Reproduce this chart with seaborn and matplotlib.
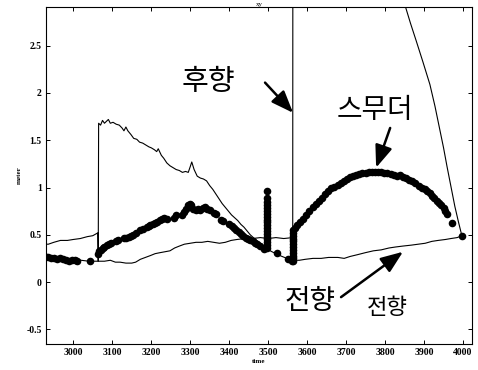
import numpy as np
import pandas as pd
import matplotlib
matplotlib.use("Agg")
import matplotlib.pyplot as plt
import seaborn as sns

# ---- backward (후향) estimate ----
bwd_t = [2930, 2936, 2950, 2967, 2985, 3000, 3018, 3036, 3050, 3063, 3064,
         3065, 3070, 3075, 3080, 3085, 3090, 3095, 3102, 3110, 3118, 3125, 3130,
         3135, 3140, 3148, 3155, 3163, 3170, 3178, 3186, 3194, 3200, 3208, 3214,
         3218, 3226, 3232, 3240, 3248, 3256, 3264, 3272, 3280, 3288, 3295, 3300,
         3304, 3310, 3318, 3326, 3334, 3342, 3350, 3358, 3366, 3374, 3382, 3390,
         3398, 3406, 3414, 3422, 3430, 3438, 3446, 3454, 3462, 3470, 3480, 3492,
         3510, 3530, 3548, 3563, 3566, 3700, 3800, 3851, 3865, 3880, 3897, 3915,
         3928, 3940, 3950, 3959, 3969, 3979, 3988, 3997]
bwd_v = [0.40, 0.40, 0.42, 0.44, 0.44, 0.45, 0.46, 0.48, 0.49, 0.52, 0.22,
         1.68, 1.66, 1.71, 1.68, 1.70, 1.72, 1.68, 1.69, 1.67, 1.66, 1.63, 1.60,
         1.64, 1.60, 1.56, 1.52, 1.51, 1.48, 1.47, 1.45, 1.43, 1.42, 1.40, 1.38,
         1.41, 1.34, 1.31, 1.26, 1.23, 1.21, 1.19, 1.18, 1.16, 1.17, 1.16, 1.22,
         1.27, 1.19, 1.12, 1.10, 1.09, 1.07, 1.02, 0.98, 0.93, 0.88, 0.83, 0.79,
         0.75, 0.71, 0.68, 0.65, 0.61, 0.58, 0.54, 0.50, 0.47, 0.44, 0.41, 0.36,
         0.32, 0.28, 0.25, 0.22, 30.0, 6.0, 3.6, 2.93, 2.74, 2.55, 2.33, 2.09,
         1.86, 1.62, 1.42, 1.22, 1.01, 0.80, 0.64, 0.49]

# ---- forward (전향) estimate ----
fwd_t = [2930, 2940, 2950, 2965, 2980, 3000, 3020, 3040, 3064, 3080, 3095,
         3108, 3120, 3135, 3150, 3160, 3172, 3185, 3198, 3210, 3222, 3235, 3248,
         3260, 3272, 3285, 3300, 3315, 3330, 3345, 3360, 3375, 3390, 3405, 3420,
         3440, 3460, 3480, 3500, 3520, 3540, 3563, 3564, 3580, 3595, 3615, 3636,
         3655, 3679, 3695, 3710, 3730, 3749, 3770, 3790, 3810, 3826, 3845, 3867,
         3885, 3903, 3920, 3936, 3955, 3969, 3985, 3997]
fwd_v = [0.30, 0.28, 0.26, 0.25, 0.24, 0.24, 0.23, 0.22, 0.22, 0.22, 0.23,
         0.21, 0.21, 0.20, 0.20, 0.21, 0.24, 0.26, 0.28, 0.30, 0.31, 0.32, 0.33,
         0.36, 0.38, 0.40, 0.41, 0.42, 0.42, 0.43, 0.42, 0.41, 0.42, 0.44, 0.45,
         0.46, 0.46, 0.47, 0.46, 0.47, 0.46, 0.47, 0.23, 0.23, 0.24, 0.25, 0.25,
         0.26, 0.26, 0.25, 0.27, 0.29, 0.31, 0.33, 0.34, 0.36, 0.37, 0.38, 0.39,
         0.40, 0.41, 0.43, 0.44, 0.45, 0.46, 0.47, 0.49]

# ---- smoother (스무더) estimate ----
smo_t = [2935, 2942, 2950, 2958, 2966, 2974, 2982, 2990, 2997, 3004, 3010, 3044,
         3064, 3066, 3070, 3075, 3080, 3086, 3092, 3098,
         3110, 3115,
         3130, 3136, 3142, 3148, 3154, 3160,
         3172, 3178,
         3188, 3193, 3198, 3204, 3210, 3216, 3222, 3228, 3234, 3240,
         3258, 3264,
         3278, 3284, 3290, 3295, 3299, 3303, 3307, 3314, 3320, 3326, 3332, 3338,
         3344, 3350,
         3362, 3366,
         3380, 3385,
         3400, 3406, 3412, 3418, 3424, 3430, 3436, 3442, 3448, 3454, 3460, 3466,
         3472, 3478, 3490,
         3496, 3496, 3496, 3496, 3496, 3496, 3496, 3496, 3496, 3496, 3496, 3496,
         3496, 3496, 3496, 3496, 3496, 3496, 3496,
         3523, 3551, 3562,
         3564, 3564, 3564, 3564, 3564, 3564, 3564, 3564, 3564, 3564, 3564, 3564,
         3568, 3575, 3582, 3590, 3598, 3606, 3614, 3622, 3630, 3638, 3646, 3654,
         3662, 3670, 3678, 3686, 3694, 3702, 3710, 3718, 3726, 3734, 3742, 3750,
         3758, 3766, 3774, 3782, 3790, 3798, 3806, 3814, 3822, 3830, 3838, 3846,
         3854, 3862, 3870, 3878, 3886, 3894, 3902, 3908, 3914, 3920, 3926, 3932,
         3938, 3944, 3950, 3955, 3960,
         3972, 3997]
smo_v = [0.26, 0.25, 0.25, 0.24, 0.25, 0.24, 0.23, 0.22, 0.23, 0.23, 0.22, 0.22,
         0.30, 0.33, 0.34, 0.36, 0.37, 0.39, 0.40, 0.41,
         0.43, 0.44,
         0.47, 0.47, 0.48, 0.49, 0.50, 0.52,
         0.55, 0.56,
         0.58, 0.59, 0.60, 0.61, 0.62, 0.64, 0.66, 0.67, 0.68, 0.67,
         0.68, 0.71,
         0.71, 0.74, 0.77, 0.81, 0.83, 0.81, 0.77, 0.76, 0.77, 0.76, 0.78, 0.79,
         0.77, 0.76,
         0.73, 0.72,
         0.66, 0.65,
         0.61, 0.59, 0.57, 0.55, 0.53, 0.51, 0.49, 0.47, 0.45, 0.44, 0.43, 0.41,
         0.40, 0.38, 0.35,
         0.36, 0.39, 0.42, 0.45, 0.48, 0.51, 0.54, 0.57, 0.60, 0.63, 0.66, 0.69,
         0.72, 0.75, 0.78, 0.81, 0.85, 0.89, 0.96,
         0.31, 0.24, 0.22,
         0.22, 0.25, 0.28, 0.31, 0.34, 0.37, 0.40, 0.43, 0.46, 0.49, 0.52, 0.55,
         0.57, 0.60, 0.63, 0.67, 0.71, 0.75, 0.79, 0.83, 0.86, 0.89, 0.93, 0.96,
         0.99, 1.01, 1.03, 1.05, 1.07, 1.09, 1.11, 1.12, 1.13, 1.14, 1.15, 1.15,
         1.16, 1.16, 1.16, 1.16, 1.16, 1.15, 1.15, 1.14, 1.13, 1.12, 1.13, 1.11,
         1.10, 1.08, 1.07, 1.05, 1.02, 1.00, 0.98, 0.96, 0.94, 0.91, 0.89, 0.86,
         0.84, 0.81, 0.78, 0.75, 0.72,
         0.62, 0.49]

x_ticks = [3000, 3100, 3200, 3300, 3400, 3500, 3600, 3700, 3800, 3900, 4000]
y_ticks = [-0.5, 0, 0.5, 1, 1.5, 2, 2.5]
y_tick_labels = ["-0.5", "0", "0.5", "1", "1.5", "2", "2.5"]

sns.set_theme(style="ticks")
plt.rcParams["font.family"] = ["Noto Sans CJK KR", "DejaVu Sans"]
plt.rcParams.update({"text.color": "black", "axes.labelcolor": "black",
                     "xtick.color": "black", "ytick.color": "black",
                     "axes.edgecolor": "black"})

fig = plt.figure(figsize=(4.78, 3.70), dpi=100)
ax = fig.add_axes([46 / 478, 26 / 370, 426 / 478, 337 / 370])

bwd = pd.DataFrame({"time": bwd_t, "meter": bwd_v})
fwd = pd.DataFrame({"time": fwd_t, "meter": fwd_v})
smo = pd.DataFrame({"time": smo_t, "meter": smo_v})

sns.lineplot(data=bwd, x="time", y="meter", estimator=None, sort=False,
             color="black", lw=0.8, ax=ax)
sns.lineplot(data=fwd, x="time", y="meter", estimator=None, sort=False,
             color="black", lw=0.8, ax=ax)
sns.scatterplot(data=smo, x="time", y="meter", color="black", s=30,
                linewidth=0, ax=ax, zorder=3)

ax.set_xlim(2930, 4023)
ax.set_ylim(-0.656, 2.91)
ax.set_xticks(x_ticks)
ax.set_xticklabels([str(v) for v in x_ticks])
ax.set_yticks(y_ticks)
ax.set_yticklabels(y_tick_labels)
ax.tick_params(direction="in", length=3, width=0.7, top=True, right=True,
               labelsize=7, pad=3, color="black", labelcolor="black")
for lab in ax.get_xticklabels() + ax.get_yticklabels():
    lab.set_family("Liberation Serif")
    lab.set_fontweight("bold")
for sp in ax.spines.values():
    sp.set_visible(True)
    sp.set_linewidth(0.8)
    sp.set_color("black")

ax.set_xlabel("time", fontsize=5, family="Liberation Serif",
              fontweight="bold", labelpad=1)
ax.set_ylabel("meter", fontsize=5, family="Liberation Serif",
              fontweight="bold", labelpad=3)
ax.set_title("xy", fontsize=5, family="Liberation Serif", pad=1)

arrow = dict(arrowstyle="-|>,head_length=0.9,head_width=0.35",
             color="black", lw=1.8, mutation_scale=15, shrinkA=0, shrinkB=0)

ax.text(3346, 2.12, "후향", fontsize=21, ha="center", va="center",
        color="black")
ax.annotate("", xy=(3564, 1.79), xytext=(3492, 2.11), arrowprops=arrow)

ax.text(3774, 1.82, "스무더", fontsize=20, ha="center", va="center",
        color="black")
ax.annotate("", xy=(3777, 1.21), xytext=(3813, 1.63), arrowprops=arrow)

ax.text(3608, -0.20, "전향", fontsize=20, ha="center", va="center",
        color="black")
ax.annotate("", xy=(3846, 0.32), xytext=(3687, -0.16), arrowprops=arrow)
ax.text(3805, -0.275, "전향", fontsize=16, ha="center", va="center",
        color="black")

fig.savefig("out.png", dpi=100)
